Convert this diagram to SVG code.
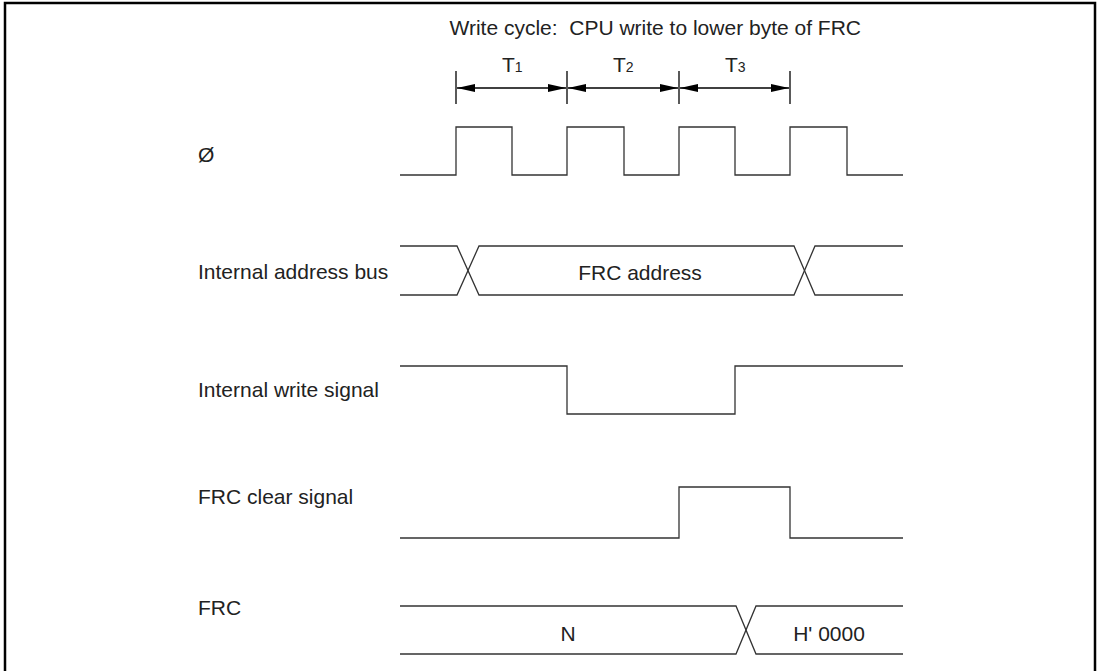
<svg xmlns="http://www.w3.org/2000/svg" width="1099" height="671" viewBox="0 0 1099 671">
<style>
.t{font-family:"Liberation Sans",Arial,sans-serif;font-size:21px;fill:#222}
.w{fill:none;stroke:#333;stroke-width:1.3}
.frame{fill:none;stroke:#000;stroke-width:2.5}
</style>
<defs>
<marker id="ah" viewBox="0 0 18 8" refX="18" refY="4" markerWidth="18" markerHeight="8" markerUnits="userSpaceOnUse" orient="auto-start-reverse">
<path d="M0,0 L18,4 L0,8 Z" fill="#000"/>
</marker>
</defs>
<rect width="1099" height="671" fill="#fff"/>
<path class="frame" d="M5,680 V3 H1095 V680"/>
<text class="t" x="861" y="35" text-anchor="end" xml:space="preserve">Write cycle:  CPU write to lower byte of FRC</text>
<g id="timing">
<g stroke="#000" stroke-width="1.3">
<line x1="456" y1="71" x2="456" y2="104"/>
<line x1="567" y1="71" x2="567" y2="104"/>
<line x1="679" y1="71" x2="679" y2="104"/>
<line x1="790" y1="71" x2="790" y2="104"/>
<line x1="457" y1="88" x2="566" y2="88" marker-start="url(#ah)" marker-end="url(#ah)"/>
<line x1="568" y1="88" x2="678" y2="88" marker-start="url(#ah)" marker-end="url(#ah)"/>
<line x1="680" y1="88" x2="789" y2="88" marker-start="url(#ah)" marker-end="url(#ah)"/>
</g>
<text class="t" x="502" y="72" font-size="20">T<tspan font-size="14">1</tspan></text>
<text class="t" x="613" y="72" font-size="20">T<tspan font-size="14">2</tspan></text>
<text class="t" x="725" y="72" font-size="20">T<tspan font-size="14">3</tspan></text>
</g>
<g id="clock">
<text class="t" x="198" y="162">Ø</text>
<path class="w" d="M400,175 H456 V127 H512 V175 H567 V127 H624 V175 H679 V127 H735 V175 H790 V127 H847 V175 H903"/>
</g>
<g id="address-bus">
<text class="t" x="198" y="279">Internal address bus</text>
<path class="w" d="M400,246 H457 L479,295 H794 L815,246 H903"/>
<path class="w" d="M400,295 H457 L479,246 H794 L815,295 H903"/>
<text class="t" x="640" y="280" text-anchor="middle">FRC address</text>
</g>
<g id="write-signal">
<text class="t" x="198" y="397">Internal write signal</text>
<path class="w" d="M400,366 H567 V414 H735 V366 H903"/>
</g>
<g id="clear-signal">
<text class="t" x="198" y="504">FRC clear signal</text>
<path class="w" d="M400,538 H679 V487 H790 V538 H903"/>
</g>
<g id="frc">
<text class="t" x="198" y="615">FRC</text>
<path class="w" d="M400,606 H736 L756,654 H903"/>
<path class="w" d="M400,654 H736 L756,606 H903"/>
<text class="t" x="568" y="641" text-anchor="middle">N</text>
<text class="t" x="829" y="641" text-anchor="middle">H' 0000</text>
</g>
</svg>
